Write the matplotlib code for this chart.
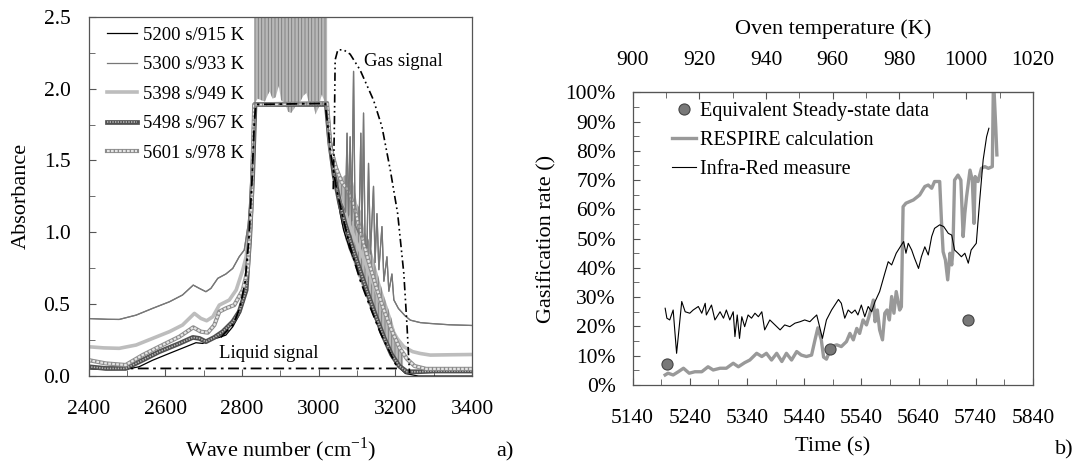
import numpy as np
import matplotlib
matplotlib.use('Agg')
import matplotlib.pyplot as plt
from matplotlib.ticker import MultipleLocator, FixedLocator, FuncFormatter
from matplotlib.legend_handler import HandlerTuple

plt.rcParams['font.family'] = 'Liberation Serif'
plt.rcParams['mathtext.fontset'] = 'custom'
plt.rcParams['mathtext.rm'] = 'Liberation Serif'
plt.rcParams['hatch.linewidth'] = 0.6
plt.rcParams['hatch.color'] = '#7a7a7a'

# ---------------- a) absorbance spectra (wave number, absorbance) ----------------
spec_5200 = [(2400, 0.05), (2450, 0.045), (2497, 0.046), (2532, 0.065), (2567, 0.11), (2611, 0.158),
             (2654, 0.204), (2680, 0.232), (2698, 0.227), (2715, 0.251), (2741, 0.269), (2758, 0.285),
             (2776, 0.343), (2793, 0.425), (2806, 0.529), (2815, 0.645), (2820, 0.95), (2826, 1.25),
             (2831, 1.6), (2835, 1.89), (3018, 1.89), (3022, 1.85), (3030, 1.642), (3043, 1.364),
             (3056, 1.132), (3065, 1.016), (3082, 0.876), (3108, 0.714), (3134, 0.528), (3161, 0.343),
             (3187, 0.180), (3208, 0.064), (3226, 0.018), (3260, 0.0), (3400, 0.0)]
spec_5300 = [(2400, 0.40), (2450, 0.395), (2480, 0.394), (2524, 0.424), (2567, 0.471), (2611, 0.517),
             (2645, 0.564), (2673, 0.633), (2689, 0.61), (2706, 0.587), (2719, 0.61), (2737, 0.68),
             (2758, 0.71), (2776, 0.749), (2793, 0.831), (2806, 0.877), (2816, 1.05), (2824, 1.3),
             (2830, 1.6), (2834, 1.9), (3020, 1.9), (3022, 1.85), (3030, 1.55), (3040, 1.38),
             (3050, 1.27), (3060, 1.2), (3066, 1.17), (3070, 1.14), (3074, 1.69), (3078, 1.12),
             (3082, 1.665), (3086, 1.08), (3091, 2.12), (3095, 1.05), (3100, 1.02), (3105, 0.99),
             (3110, 1.69), (3113, 0.96), (3117, 1.83), (3121, 0.92), (3126, 0.89), (3130, 1.48),
             (3135, 0.85), (3143, 1.32), (3147, 0.79), (3152, 1.13), (3157, 0.74), (3165, 1.04),
             (3170, 0.66), (3178, 0.83), (3183, 0.59), (3191, 0.71), (3196, 0.53), (3208, 0.47),
             (3225, 0.42), (3239, 0.389), (3265, 0.372), (3291, 0.366), (3340, 0.357), (3400, 0.352)]
spec_5398 = [(2400, 0.204), (2440, 0.196), (2480, 0.193), (2524, 0.216), (2567, 0.262), (2611, 0.309),
             (2645, 0.355), (2676, 0.436), (2693, 0.401), (2708, 0.385), (2724, 0.413), (2741, 0.494),
             (2767, 0.529), (2785, 0.599), (2802, 0.738), (2811, 0.831), (2820, 1.05), (2827, 1.4),
             (2834, 1.89), (3020, 1.89), (3028, 1.6), (3040, 1.4), (3060, 1.2), (3080, 1.05),
             (3100, 0.92), (3120, 0.8), (3140, 0.66), (3152, 0.58), (3170, 0.45), (3187, 0.343),
             (3205, 0.26), (3222, 0.204), (3245, 0.17), (3265, 0.157), (3291, 0.146), (3340, 0.148),
             (3400, 0.15)]
spec_5498 = [(2400, 0.065), (2445, 0.053), (2497, 0.053), (2541, 0.111), (2584, 0.169), (2637, 0.227),
             (2672, 0.269), (2689, 0.262), (2706, 0.239), (2728, 0.269), (2750, 0.309), (2776, 0.378),
             (2793, 0.448), (2811, 0.599), (2820, 0.95), (2828, 1.4), (2834, 1.89), (3020, 1.89),
             (3028, 1.65), (3040, 1.4), (3055, 1.2), (3070, 1.05), (3090, 0.88), (3110, 0.72),
             (3130, 0.56), (3150, 0.41), (3170, 0.27), (3190, 0.15), (3210, 0.07), (3230, 0.03),
             (3260, 0.03), (3300, 0.035), (3400, 0.035)]
spec_5601 = [(2400, 0.111), (2445, 0.088), (2497, 0.077), (2541, 0.146), (2584, 0.204), (2637, 0.274),
             (2673, 0.339), (2693, 0.309), (2711, 0.302), (2728, 0.355), (2741, 0.448), (2758, 0.471),
             (2780, 0.494), (2802, 0.599), (2815, 0.738), (2825, 1.2), (2832, 1.89), (3022, 1.9),
             (3030, 1.6), (3045, 1.45), (3060, 1.35), (3075, 1.3), (3090, 1.2), (3110, 1.0),
             (3130, 0.8), (3150, 0.62), (3170, 0.46), (3190, 0.32), (3210, 0.2), (3230, 0.12),
             (3250, 0.07), (3280, 0.05), (3330, 0.05), (3400, 0.05)]

# saturated part of the 5601 s spectrum (lower edge, goes off the top)
sat_edge = [(2832, 1.89), (2841, 1.93), (2850, 1.92), (2860, 1.91), (2868, 1.96), (2872, 1.98),
            (2880, 1.93), (2888, 1.94), (2896, 2.02), (2902, 1.92), (2912, 1.90), (2920, 1.84),
            (2928, 1.83), (2936, 1.86), (2944, 1.90), (2952, 1.91), (2960, 1.95), (2968, 1.97),
            (2976, 1.88), (2984, 1.91), (2992, 1.82), (3000, 1.87), (3008, 1.96), (3014, 1.92),
            (3022, 1.85)]
# dense gas lines on the high wave number side (wave number, low, high)
gas_band = [(3020, 1.89, 1.9), (3030, 1.6, 1.7), (3040, 1.36, 1.55), (3050, 1.2, 1.45), (3060, 1.06, 1.38),
            (3070, 0.95, 1.4), (3080, 0.87, 1.32), (3090, 0.8, 1.35), (3100, 0.72, 1.2), (3110, 0.65, 1.15),
            (3120, 0.58, 1.0), (3130, 0.5, 0.95), (3140, 0.43, 0.85), (3150, 0.37, 0.75), (3160, 0.3, 0.65),
            (3170, 0.24, 0.56), (3180, 0.18, 0.48), (3190, 0.13, 0.4), (3200, 0.09, 0.3), (3210, 0.06, 0.22),
            (3220, 0.04, 0.15)]

liquid_sig = [(2745, 0.27), (2778, 0.36), (2795, 0.48), (2808, 0.65), (2818, 0.95), (2826, 1.35),
              (2832, 1.75), (2836, 1.89), (3017, 1.897), (3026, 1.69), (3030, 1.57), (3047, 1.294),
              (3065, 1.085), (3082, 0.90), (3108, 0.668), (3134, 0.482), (3161, 0.30), (3187, 0.157),
              (3206, 0.053), (2510, 0.053)]
gas_sig = [(3038, 1.3), (3041, 1.75), (3043, 2.2), (3050, 2.27), (3065, 2.27), (3082, 2.24),
           (3108, 2.13), (3143, 1.92), (3165, 1.735), (3187, 1.43), (3206, 1.13), (3222, 0.714),
           (3230, 0.366), (3235, 0.11), (3237, 0.02)]

# ---------------- b) gasification rate ----------------
respire = [(5197, 0.034), (5202, 0.040), (5211, 0.034), (5220, 0.045), (5229, 0.057), (5239, 0.040),
           (5249, 0.045), (5261, 0.045), (5272, 0.062), (5281, 0.051), (5293, 0.057), (5304, 0.057),
           (5316, 0.074), (5325, 0.062), (5336, 0.076), (5345, 0.085), (5357, 0.108), (5366, 0.097),
           (5374, 0.108), (5383, 0.085), (5392, 0.108), (5401, 0.080), (5409, 0.108), (5418, 0.085),
           (5427, 0.114), (5435, 0.102), (5444, 0.097), (5453, 0.102), (5459, 0.154), (5464, 0.195),
           (5470, 0.154), (5474, 0.095), (5479, 0.088), (5488, 0.131), (5497, 0.137), (5505, 0.131),
           (5514, 0.148), (5520, 0.176), (5526, 0.154), (5532, 0.193), (5537, 0.176), (5543, 0.222),
           (5549, 0.205), (5555, 0.245), (5561, 0.290), (5564, 0.216), (5568, 0.256), (5572, 0.188),
           (5577, 0.154), (5581, 0.245), (5585, 0.256), (5589, 0.222), (5593, 0.302), (5597, 0.245),
           (5601, 0.319), (5607, 0.256), (5610, 0.267), (5613, 0.609), (5618, 0.621), (5631, 0.632),
           (5642, 0.649), (5651, 0.678), (5657, 0.683), (5663, 0.672), (5668, 0.695), (5677, 0.695),
           (5680, 0.564), (5683, 0.455), (5687, 0.427), (5691, 0.359), (5695, 0.450), (5698, 0.410),
           (5700, 0.455), (5703, 0.700), (5709, 0.717), (5714, 0.700), (5718, 0.507), (5721, 0.587),
           (5724, 0.643), (5730, 0.734), (5734, 0.700), (5737, 0.552), (5739, 0.712), (5744, 0.695),
           (5750, 0.740), (5756, 0.746), (5762, 0.740), (5769, 0.746), (5771, 1.05), (5775, 0.882),
           (5777, 0.786)]
infrared = [(5197, 0.262), (5200, 0.228), (5205, 0.222), (5211, 0.256), (5217, 0.108), (5226, 0.285),
            (5232, 0.250), (5240, 0.245), (5246, 0.256), (5255, 0.268), (5261, 0.245), (5267, 0.279),
            (5269, 0.239), (5278, 0.273), (5284, 0.222), (5293, 0.250), (5299, 0.228), (5304, 0.256),
            (5310, 0.222), (5316, 0.250), (5319, 0.165), (5323, 0.239), (5327, 0.159), (5331, 0.233),
            (5336, 0.199), (5342, 0.239), (5348, 0.228), (5354, 0.245), (5360, 0.233), (5366, 0.250),
            (5371, 0.188), (5380, 0.222), (5389, 0.205), (5398, 0.188), (5406, 0.205), (5415, 0.199),
            (5424, 0.211), (5433, 0.216), (5441, 0.222), (5450, 0.216), (5456, 0.228), (5462, 0.239),
            (5467, 0.199), (5472, 0.159), (5479, 0.222), (5488, 0.256), (5500, 0.292), (5505, 0.279),
            (5511, 0.228), (5517, 0.256), (5523, 0.245), (5529, 0.256), (5534, 0.239), (5540, 0.273),
            (5546, 0.233), (5552, 0.268), (5558, 0.250), (5564, 0.285), (5572, 0.319), (5581, 0.381),
            (5587, 0.421), (5593, 0.410), (5601, 0.450), (5610, 0.478), (5614, 0.490), (5618, 0.450),
            (5622, 0.484), (5628, 0.461), (5633, 0.433), (5640, 0.398), (5645, 0.438), (5651, 0.472),
            (5657, 0.444), (5663, 0.507), (5668, 0.535), (5677, 0.547), (5684, 0.541), (5692, 0.518),
            (5698, 0.512), (5703, 0.461), (5709, 0.450), (5715, 0.438), (5721, 0.450), (5727, 0.416),
            (5732, 0.461), (5741, 0.484), (5747, 0.632), (5753, 0.769), (5759, 0.848), (5763, 0.877)]
steady = [(5200, 0.072), (5485, 0.122), (5727, 0.222)]

time_ticks = [5140, 5240, 5340, 5440, 5540, 5640, 5740, 5840]
temp_ticks = [900, 920, 940, 960, 980, 1000, 1020]


def cols(pairs):
    return [list(c) for c in zip(*pairs)]


fig = plt.figure(figsize=(10.85, 4.66), dpi=100)
frame_col = '#555555'

# ================= panel a =================
ax1 = fig.add_axes([0.0816, 0.193, 0.3535, 0.771])
x, y = cols(spec_5200)
l5200, = ax1.plot(x, y, color='black', lw=0.9)
x, y = cols(spec_5300)
l5300, = ax1.plot(x, y, color='#777777', lw=0.9)
x, y = cols(spec_5398)
l5398, = ax1.plot(x, y, color='#bdbdbd', lw=2.6)
x, y = cols(spec_5498)
l5498a, = ax1.plot(x, y, color='#505050', lw=3.4)
l5498b, = ax1.plot(x, y, color='#b8b8b8', lw=1.2, ls=(0, (0.8, 0.8)))
x, y = cols(spec_5601)
l5601a, = ax1.plot(x, y, color='#8c8c8c', lw=3.0)
l5601b, = ax1.plot(x, y, color='#e4e4e4', lw=1.6, ls=(0, (1.2, 0.6)))

x, y = cols(sat_edge)
ax1.fill_between(x, y, 2.6, facecolor='#b8b8b8', edgecolor='#7a7a7a', hatch='|||||', lw=0)
x, lo, hi = cols(gas_band)
ax1.fill_between(x, lo, hi, facecolor='#b8b8b8', edgecolor='#7a7a7a', hatch='|||||', lw=0)
# redraw the top spectrum on the band
x, y = cols(spec_5300)
ax1.plot(x, y, color='#777777', lw=0.9)

x, y = cols(liquid_sig)
ax1.plot(x, y, color='black', lw=1.3, ls=(0, (6, 2.5, 1.5, 2.5)))
x, y = cols(gas_sig)
ax1.plot(x, y, color='black', lw=1.2, ls=(0, (5, 2, 1, 2, 1, 2)))

ax1.text(3119, 2.19, 'Gas signal', fontsize=13.5, ha='left', va='center')
ax1.text(2741, 0.16, 'Liquid signal', fontsize=13.5, ha='left', va='center')

ax1.set_xlim(2400, 3400)
ax1.set_ylim(0, 2.5)
ax1.xaxis.set_major_locator(MultipleLocator(200))
ax1.xaxis.set_minor_locator(MultipleLocator(100))
ax1.yaxis.set_major_locator(MultipleLocator(0.5))
ax1.yaxis.set_minor_locator(MultipleLocator(0.25))
ax1.yaxis.set_major_formatter(FuncFormatter(lambda v, p: f'{v:.1f}'))
ax1.tick_params(which='both', direction='in', top=False, right=False, labelsize=15.5, color=frame_col)
ax1.tick_params(which='major', length=5)
ax1.tick_params(which='minor', length=4)
ax1.tick_params(axis='x', pad=17)
ax1.tick_params(axis='y', pad=13)
ax1.set_xlabel('Wave number (cm$^{-1}$)', fontsize=16, labelpad=12)
ax1.set_ylabel('Absorbance', fontsize=16)
ax1.yaxis.set_label_coords(-0.15, 0.5)
for s in ax1.spines.values():
    s.set_color(frame_col)
    s.set_linewidth(0.9)

ax1.legend([l5200, l5300, l5398, (l5498a, l5498b), (l5601a, l5601b)],
           ['5200 s/915 K', '5300 s/933 K', '5398 s/949 K', '5498 s/967 K', '5601 s/978 K'],
           handler_map={tuple: HandlerTuple(ndivide=1)},
           loc='upper left', bbox_to_anchor=(0.047, 0.972), frameon=False, fontsize=13.5,
           borderpad=0, borderaxespad=0, handlelength=1.6, handletextpad=0.35, labelspacing=0.66)

# ================= panel b =================
ax2 = fig.add_axes([0.583, 0.174, 0.369, 0.628])
x, y = cols(respire)
ax2.plot(x, y, color='#999999', lw=2.4, label='RESPIRE calculation')
x, y = cols(infrared)
ax2.plot(x, y, color='black', lw=0.8, label='Infra-Red measure')
x, y = cols(steady)
ax2.plot(x, y, 'o', ms=8, mfc='#787878', mec='#444444', mew=0.8, label='Equivalent Steady-state data')

ax2.set_xlim(5140, 5840)
ax2.set_ylim(0, 1)
ax2.xaxis.set_major_locator(FixedLocator(time_ticks))
ax2.xaxis.set_minor_locator(MultipleLocator(50, offset=40))
ax2.yaxis.set_major_locator(MultipleLocator(0.1))
ax2.yaxis.set_minor_locator(MultipleLocator(0.05))
ax2.yaxis.set_major_formatter(FuncFormatter(lambda v, p: f'{v*100:.0f}%'))
ax2.tick_params(which='both', direction='in', top=False, right=False, labelsize=15.5, color=frame_col)
ax2.tick_params(which='major', length=5)
ax2.tick_params(which='minor', length=4)
ax2.tick_params(axis='x', pad=17)
ax2.tick_params(axis='y', pad=12)
ax2.set_xlabel('Time (s)', fontsize=16, labelpad=7)
ax2.set_ylabel('Gasification rate ()', fontsize=16)
ax2.yaxis.set_label_coords(-0.19, 0.5)
for s in ax2.spines.values():
    s.set_color(frame_col)
    s.set_linewidth(0.9)

t_lo, t_hi = 5140, 5840
T_lo, T_hi = 900, 1020
top = ax2.secondary_xaxis('top', functions=(
    lambda t: T_lo + (t - t_lo) * (T_hi - T_lo) / (t_hi - t_lo),
    lambda T: t_lo + (T - T_lo) * (t_hi - t_lo) / (T_hi - T_lo)))
top.xaxis.set_major_locator(FixedLocator(temp_ticks))
top.xaxis.set_minor_locator(MultipleLocator(10))
top.tick_params(which='both', direction='in', labelsize=15.5, pad=16, color=frame_col)
top.tick_params(which='major', length=5)
top.tick_params(which='minor', length=4)
top.set_xlabel('Oven temperature (K)', fontsize=16, labelpad=12)
top.spines['top'].set_color(frame_col)

h, lab = ax2.get_legend_handles_labels()
order = [2, 0, 1]
ax2.legend([h[i] for i in order], [lab[i] for i in order], loc='upper left',
           bbox_to_anchor=(0.098, 0.968), frameon=False, fontsize=14.5, borderpad=0,
           borderaxespad=0, handlelength=1.2, handletextpad=0.2, labelspacing=0.5)

fig.text(0.465, 0.03, 'a)', fontsize=16, ha='center', va='center')
fig.text(0.981, 0.035, 'b)', fontsize=16, ha='center', va='center')

fig.savefig('out.png', dpi=100)
